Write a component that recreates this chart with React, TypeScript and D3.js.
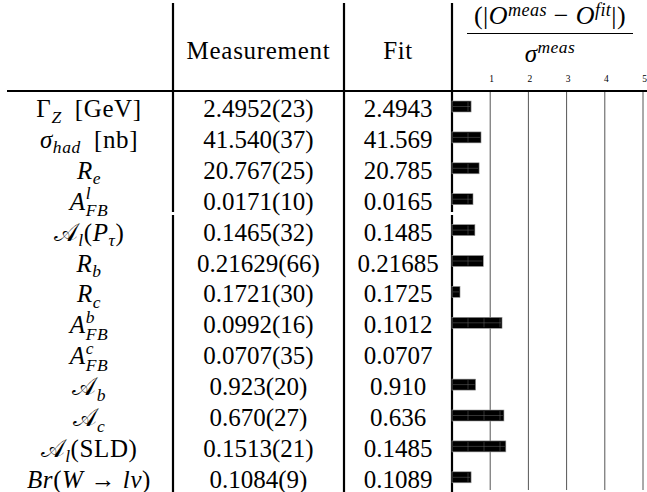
import * as d3 from 'd3';

// ---------------------------------------------------------------------------
// Electroweak fit table: measurement, fit value and pull bar per observable
// ---------------------------------------------------------------------------

type Tok = { s: string; k: 'rm' | 'it' | 'sub' | 'sup' | 'ss'; s2?: string };

const observables: Tok[][] = [
  [{ s: 'Γ', k: 'rm' }, { s: 'Z', k: 'sub' }, { s: '\u2002[GeV]', k: 'rm' }],
  [{ s: 'σ', k: 'it' }, { s: 'had', k: 'sub' }, { s: '\u2002[nb]', k: 'rm' }],
  [{ s: 'R', k: 'it' }, { s: 'e', k: 'sub' }],
  [{ s: 'A', k: 'it' }, { s: 'l', k: 'ss', s2: 'FB' }],
  [{ s: '𝒜', k: 'rm' }, { s: 'l', k: 'sub' }, { s: '(', k: 'rm' }, { s: 'P', k: 'it' }, { s: 'τ', k: 'sub' }, { s: ')', k: 'rm' }],
  [{ s: 'R', k: 'it' }, { s: 'b', k: 'sub' }],
  [{ s: 'R', k: 'it' }, { s: 'c', k: 'sub' }],
  [{ s: 'A', k: 'it' }, { s: 'b', k: 'ss', s2: 'FB' }],
  [{ s: 'A', k: 'it' }, { s: 'c', k: 'ss', s2: 'FB' }],
  [{ s: '𝒜', k: 'rm' }, { s: 'b', k: 'sub' }],
  [{ s: '𝒜', k: 'rm' }, { s: 'c', k: 'sub' }],
  [{ s: '𝒜', k: 'rm' }, { s: 'l', k: 'sub' }, { s: '(SLD)', k: 'rm' }],
  [{ s: 'Br', k: 'it' }, { s: '(', k: 'rm' }, { s: 'W', k: 'it' }, { s: ' → ', k: 'rm' }, { s: 'lν', k: 'it' }, { s: ')', k: 'rm' }],
];

const measurements = [
  '2.4952(23)', '41.540(37)', '20.767(25)', '0.0171(10)', '0.1465(32)', '0.21629(66)',
  '0.1721(30)', '0.0992(16)', '0.0707(35)', '0.923(20)', '0.670(27)', '0.1513(21)', '0.1084(9)',
];

const fits = [
  '2.4943', '41.569', '20.785', '0.0165', '0.1485', '0.21685',
  '0.1725', '0.1012', '0.0707', '0.910', '0.636', '0.1485', '0.1089',
];

// |O_meas - O_fit| / sigma_meas
const pulls = [0.5, 0.76, 0.71, 0.55, 0.6, 0.82, 0.21, 1.31, 0, 0.62, 1.36, 1.41, 0.5];

const pullTicks = [1, 2, 3, 4, 5];

const numerator: Tok[] = [
  { s: '(|', k: 'rm' }, { s: 'O', k: 'it' }, { s: 'meas', k: 'sup' }, { s: '\u2005−\u2005', k: 'rm' },
  { s: 'O', k: 'it' }, { s: 'fit', k: 'sup' }, { s: '|)', k: 'rm' },
];
const denominator: Tok[] = [{ s: 'σ', k: 'it' }, { s: 'meas', k: 'sup' }];

const SERIF = 'Liberation Serif, Times New Roman, serif';
const FS = 25;

const W = 647;
const H = 492;

let ctx: CanvasRenderingContext2D | null = null;
function textWidth(s: string, font: string) {
  if (!ctx) ctx = document.createElement('canvas').getContext('2d');
  if (!ctx) return s.length * 6;
  ctx.font = font;
  return ctx.measureText(s).width;
}

function MathText({ toks, x, y, size = FS, supUp = 0.42, ls = 0 }: {
  toks: Tok[]; x: number; y: number; size?: number; supUp?: number; ls?: number;
}) {
  const sc = size * 0.7;
  let off = 0;
  const spans: JSX.Element[] = [];
  toks.forEach((t, i) => {
    if (t.k === 'rm' || t.k === 'it') {
      spans.push(
        <tspan key={i} dy={-off} style={{ fontSize: size, fontStyle: t.k === 'it' ? 'italic' : 'normal' }}>{t.s}</tspan>
      );
      off = 0;
    } else if (t.k === 'sub') {
      const d = size * 0.22;
      spans.push(<tspan key={i} dy={d - off} style={{ fontSize: sc, fontStyle: 'italic' }}>{t.s}</tspan>);
      off = d;
    } else if (t.k === 'sup') {
      const d = -size * supUp;
      spans.push(<tspan key={i} dy={d - off} style={{ fontSize: sc, fontStyle: 'italic' }}>{t.s}</tspan>);
      off = d;
    } else {
      const up = -size * 0.42;
      const dn = size * 0.26;
      const w = textWidth(t.s, `italic ${sc}px ${SERIF}`) + ls * t.s.length;
      spans.push(<tspan key={i + 'a'} dy={up - off} style={{ fontSize: sc, fontStyle: 'italic' }}>{t.s}</tspan>);
      spans.push(<tspan key={i + 'b'} dx={-w} dy={dn - up} style={{ fontSize: sc, fontStyle: 'italic' }}>{t.s2}</tspan>);
      off = dn;
    }
  });
  return (
    <text x={x} y={y} textAnchor="middle" fill="#000" style={{ fontFamily: SERIF, letterSpacing: ls }}>{spans}</text>
  );
}

const txt = (size: number, ls = 0) => ({ fontFamily: SERIF, fontSize: size, letterSpacing: ls });

export default function App() {
  // column rules
  const colLabel = 173;
  const colMeas = 344;
  const colPull = 452;
  const ruleY = 91;
  const gap = [212, 215];

  const x = d3.scaleLinear().domain([0, 5]).range([colPull, 643]);
  const rows = d3.range(observables.length);
  const y = d3.scalePoint<number>().domain(rows).range([117, 117 + 30.9 * 12]);
  const barH = 11;
  const seam = 16; // segment length of the drawn bars

  return (
    <svg width={W} height={H} style={{ position: 'absolute', left: 0, top: 0, background: '#fff' }}>
      {/* header */}
      <text x={(colLabel + colMeas) / 2} y={59} textAnchor="middle" style={txt(FS, 0.7)}>Measurement</text>
      <text x={(colMeas + colPull) / 2} y={59} textAnchor="middle" style={txt(FS, 0.5)}>Fit</text>
      <MathText toks={numerator} x={550} y={24} size={26} supUp={0.31} ls={0.4} />
      <line x1={467} x2={633} y1={33.5} y2={33.5} stroke="#000" strokeWidth={1.2} />
      <MathText toks={denominator} x={550} y={62} supUp={0.36} ls={0.4} />

      {/* pull axis grid */}
      {pullTicks.map((t) => (
        <g key={t}>
          <line x1={x(t)} x2={x(t)} y1={ruleY} y2={490} stroke="#555" strokeWidth={1} />
          <text x={x(t) + 1.5} y={82} textAnchor="middle" style={txt(9.5)}>{t}</text>
        </g>
      ))}

      {/* table rules */}
      <line x1={7} x2={W} y1={ruleY} y2={ruleY} stroke="#000" strokeWidth={2.2} />
      {[colLabel, colPull].map((cx) => (
        <g key={cx}>
          <line x1={cx} x2={cx} y1={3} y2={gap[0]} stroke="#000" strokeWidth={2.2} />
          <line x1={cx} x2={cx} y1={gap[1]} y2={H} stroke="#000" strokeWidth={2.2} />
        </g>
      ))}
      <line x1={colMeas} x2={colMeas} y1={3} y2={H} stroke="#000" strokeWidth={2.2} />

      {/* rows */}
      {rows.map((i) => {
        const by = (y(i) as number) - 10.5 - barH / 2;
        const x1 = x(pulls[i]);
        const seams = d3.range(colPull + seam, x1 - 2, seam);
        return (
          <g key={i}>
            <MathText toks={observables[i]} x={89} y={y(i) as number} ls={0.6} />
            <text x={(colLabel + colMeas) / 2} y={y(i)} textAnchor="middle" style={txt(FS)}>{measurements[i]}</text>
            <text x={(colMeas + colPull) / 2} y={y(i)} textAnchor="middle" style={txt(FS)}>{fits[i]}</text>
            {pulls[i] > 0 && (
              <g>
                <rect x={colPull} y={by} width={x1 - colPull} height={barH} fill="#000" stroke="#999" strokeWidth={0.6} />
                <line x1={colPull + 1} x2={x1 - 1} y1={by + barH / 2} y2={by + barH / 2} stroke="#666" strokeWidth={0.5} />
                {seams.map((s) => (
                  <line key={s} x1={s} x2={s} y1={by + 1} y2={by + barH - 1} stroke="#666" strokeWidth={0.5} />
                ))}
              </g>
            )}
          </g>
        );
      })}
    </svg>
  );
}
